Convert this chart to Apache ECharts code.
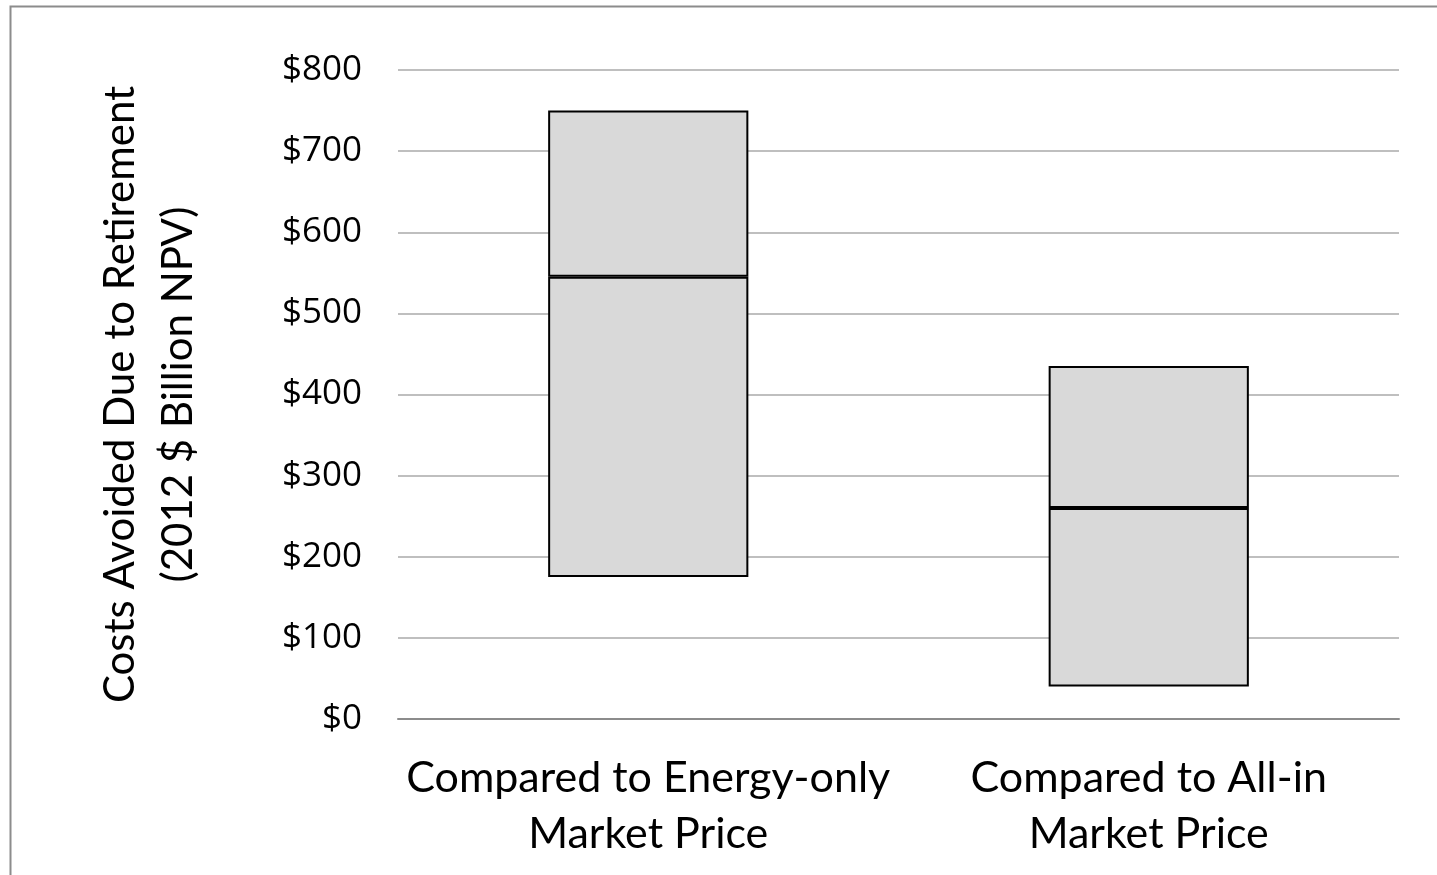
<!DOCTYPE html>
<html>
<head>
<meta charset="utf-8">
<script src="https://cdn.jsdelivr.net/npm/echarts@6/dist/echarts.min.js"></script>
<style>
html,body{margin:0;padding:0;background:#fff;}
#chart{width:1437px;height:875px;}
</style>
</head>
<body>
<div id="chart"></div>
<script>
const categories = ['Compared to Energy-only\nMarket Price', 'Compared to All-in\nMarket Price'];
const lowValues = [175, 40];
const midValues = [545, 260];
const highValues = [750, 435];
const yTicks = [0, 100, 200, 300, 400, 500, 600, 700, 800];

const lowerBox = midValues.map((m, i) => m - lowValues[i]);
const upperBox = highValues.map((h, i) => h - midValues[i]);

const chart = echarts.init(document.getElementById('chart'));
const boxStyle = { color: '#d9d9d9', borderColor: '#000', borderWidth: 2 };
chart.setOption({
  animation: false,
  backgroundColor: '#fff',
  graphic: [{
    type: 'rect', left: 8, top: 4,
    shape: { width: 1500, height: 1000 },
    style: { fill: 'none', stroke: '#8c8c8c', lineWidth: 2 },
    silent: true
  }],
  grid: { left: 398, right: 38, top: 70, bottom: 156 },
  xAxis: {
    type: 'category',
    data: categories,
    axisTick: { show: false },
    axisLine: { lineStyle: { color: '#8c8c8c', width: 2 } },
    axisLabel: {
      fontFamily: 'Lato', fontSize: 43, color: '#000',
      lineHeight: 56, margin: 31, interval: 0
    }
  },
  yAxis: {
    type: 'value',
    min: yTicks[0], max: yTicks[yTicks.length - 1], interval: 100,
    axisLine: { show: false },
    axisTick: { show: false },
    splitLine: { lineStyle: { color: '#bfbfbf', width: 2 } },
    axisLabel: {
      fontFamily: 'Open Sans', fontSize: 35, color: '#000', margin: 36,
      formatter: v => '$' + v
    },
    name: 'Costs Avoided Due to Retirement\n(2012 $ Billion NPV)',
    nameLocation: 'middle',
    nameRotate: 90,
    nameGap: 191,
    nameTextStyle: { fontFamily: 'Lato', fontSize: 42, color: '#000', lineHeight: 58 }
  },
  series: [
    { type: 'bar', stack: 's', data: lowValues, barWidth: '40%',
      itemStyle: { color: 'transparent' }, silent: true },
    { type: 'bar', stack: 's', data: lowerBox, itemStyle: boxStyle },
    { type: 'bar', stack: 's', data: upperBox, itemStyle: boxStyle }
  ]
});
</script>
</body>
</html>
